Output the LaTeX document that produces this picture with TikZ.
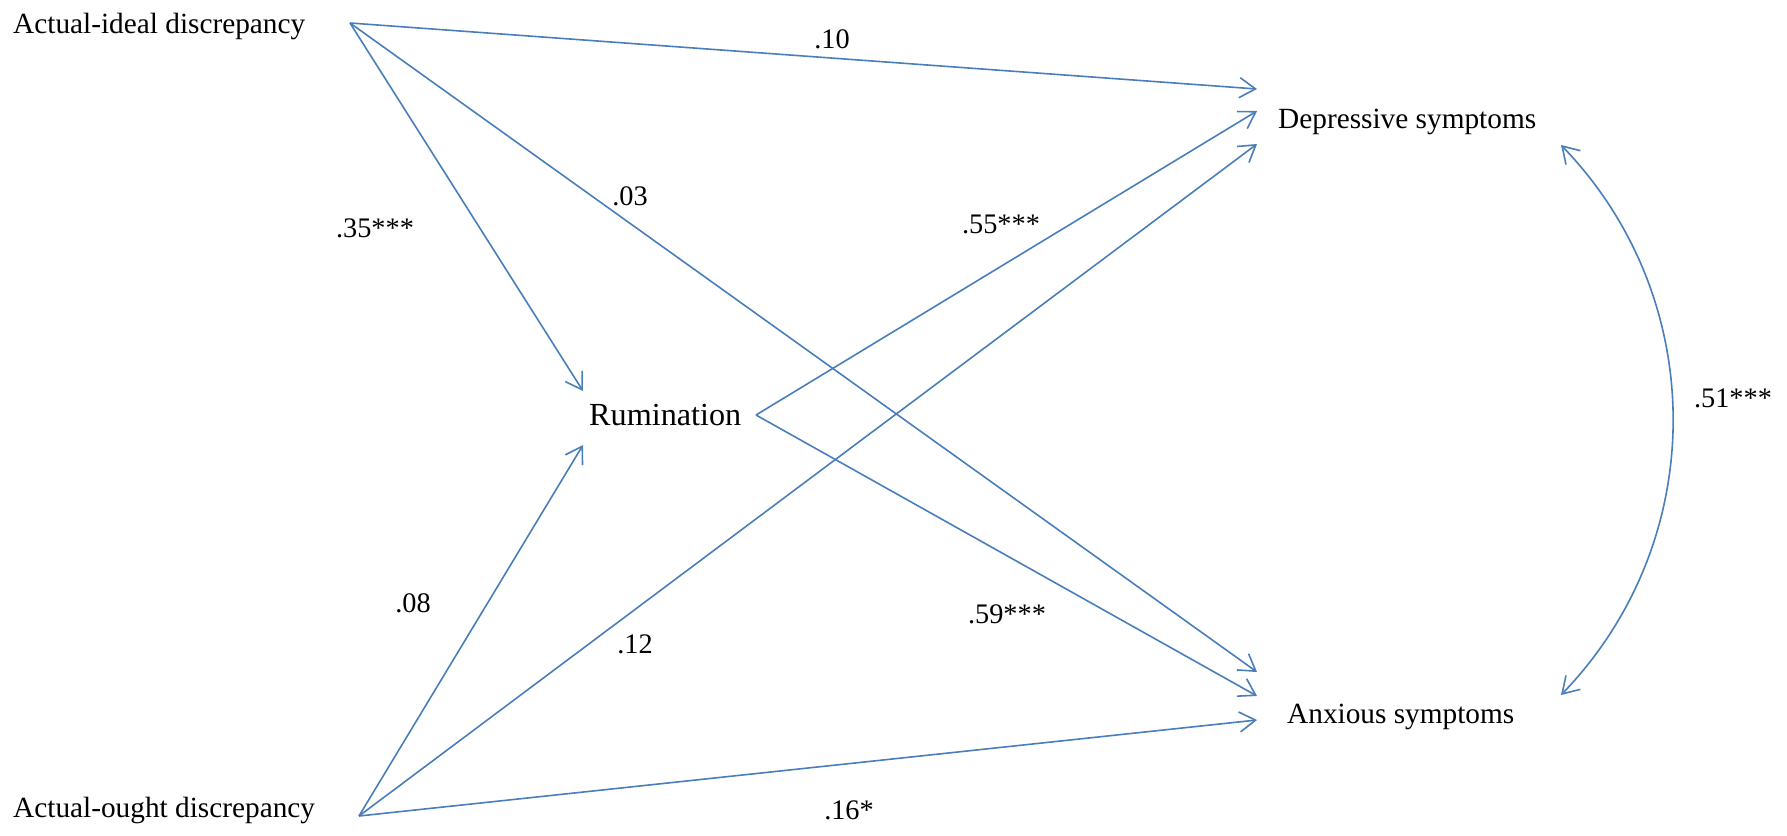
\documentclass[tikz,border=0pt]{standalone}
\usepackage{fontspec}
\setmainfont{Liberation Serif}
\usetikzlibrary{arrows.meta}
\definecolor{pathblue}{RGB}{74,126,187}
\begin{document}
\begin{tikzpicture}[x=1pt,y=-1pt,
  var/.style={inner sep=0pt, anchor=base west, font=\fontsize{29.3}{34}\selectfont},
  coef/.style={inner sep=0pt, anchor=base, font=\fontsize{28.3}{33}\selectfont},
  conn/.style={draw=pathblue, line width=1.6pt, -{Straight Barb[length=16pt,width=20pt,line width=1.6pt]}},
  corr/.style={draw=pathblue, line width=1.6pt, {Straight Barb[length=16pt,width=20pt,line width=1.6pt]}-{Straight Barb[length=16pt,width=20pt,line width=1.6pt]}}]
\useasboundingbox (0,0) rectangle (1787,835);
% variables
\node[var] (ideal) at (13,33) {Actual-ideal discrepancy};
\node[var] (ought) at (13,817) {Actual-ought discrepancy};
\node[var, font=\fontsize{32.2}{38}\selectfont] (rum) at (589,425) {Rumination};
\node[var] (dep) at (1278,128) {Depressive symptoms};
\node[var] (anx) at (1287,723) {Anxious symptoms};
% connector end points
\coordinate (iOut) at (350,23);
\coordinate (oOut) at (359,816);
\coordinate (rOut) at (756,415);
\coordinate (rInT) at (583,391);
\coordinate (rInB) at (583,445);
\coordinate (dIn1) at (1257,89);
\coordinate (dIn2) at (1257,111);
\coordinate (dIn3) at (1257,144);
\coordinate (aIn1) at (1257,672);
\coordinate (aIn2) at (1257,696);
\coordinate (aIn3) at (1257,720);
\coordinate (dCorr) at (1561,145);
\coordinate (aCorr) at (1561,695);
% paths
\draw[conn] (iOut) -- (dIn1);
\draw[conn] (iOut) -- (rInT);
\draw[conn] (iOut) -- (aIn1);
\draw[conn] (rOut) -- (dIn2);
\draw[conn] (rOut) -- (aIn2);
\draw[conn] (oOut) -- (rInB);
\draw[conn] (oOut) -- (dIn3);
\draw[conn] (oOut) -- (aIn3);
\draw[corr] (dCorr) to[bend left=44] (aCorr);
% coefficients
\node[coef] (c10) at (832,48) {.10};
\node[coef] (c03) at (630,205) {.03};
\node[coef] (c35) at (375,237) {.35***};
\node[coef] (c55) at (1001,233) {.55***};
\node[coef] (c51) at (1733,407) {.51***};
\node[coef] (c08) at (413,612) {.08};
\node[coef] (c12) at (635,653) {.12};
\node[coef] (c59) at (1007,623) {.59***};
\node[coef] (c16) at (849,819) {.16*};
\end{tikzpicture}
\end{document}
